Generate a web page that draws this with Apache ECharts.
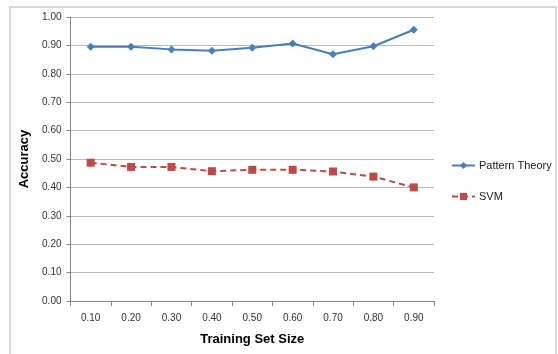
<!DOCTYPE html>
<html><head><meta charset="utf-8">
<script src="https://cdn.jsdelivr.net/npm/echarts@6/dist/echarts.min.js"></script>
<style>html,body{margin:0;padding:0;background:#fff}#c{width:558px;height:354px}</style>
</head><body><div id="c"></div>
<script>
const categories = ['0.10','0.20','0.30','0.40','0.50','0.60','0.70','0.80','0.90'];
const patternTheory = [0.895, 0.895, 0.886, 0.881, 0.892, 0.907, 0.869, 0.897, 0.955];
const svm = [0.487, 0.472, 0.472, 0.457, 0.462, 0.462, 0.456, 0.438, 0.400];
const seriesNames = ['Pattern Theory', 'SVM'];

const chart = echarts.init(document.getElementById('c'), null, {renderer:'canvas'});
const font = 'Liberation Sans, Arial, sans-serif';
chart.setOption({
  animation: false,
  backgroundColor: '#fff',
  graphic: [{
    type: 'rect', shape: {x: 10, y: 7, width: 546, height: 360},
    style: {fill: 'none', stroke: '#d9d9d9', lineWidth: 2}, silent: true
  }],
  grid: {left: 70.5, right: 124, top: 17, bottom: 53},
  legend: {
    orient: 'vertical', left: 446, top: 155, itemGap: 20,
    itemWidth: 23, itemHeight: 9,
    textStyle: {fontFamily: font, fontSize: 11, color: '#222', padding: [0, 0, 0, -1]},
    data: seriesNames.map(n => ({name: n}))
  },
  xAxis: {
    type: 'category', data: categories, boundaryGap: true,
    name: 'Training Set Size', nameLocation: 'middle', nameGap: 32,
    nameTextStyle: {fontFamily: font, fontSize: 13, fontWeight: 'bold', color: '#000'},
    axisLine: {lineStyle: {color: '#888', width: 1}},
    axisTick: {show: true, length: 5, lineStyle: {color: '#888'}},
    axisLabel: {fontFamily: font, fontSize: 10, color: '#333', margin: 12}
  },
  yAxis: {
    type: 'value', min: 0, max: 1, interval: 0.1,
    name: 'Accuracy', nameLocation: 'middle', nameGap: 33, nameRotate: 90,
    nameTextStyle: {fontFamily: font, fontSize: 13, fontWeight: 'bold', color: '#000'},
    axisLine: {show: true, lineStyle: {color: '#888', width: 1}},
    axisTick: {show: true, length: 4, inside: false, lineStyle: {color: '#888'}},
    axisLabel: {fontFamily: font, fontSize: 10, color: '#333', margin: 9, formatter: v => v.toFixed(2)},
    splitLine: {lineStyle: {color: '#b8b8b8', width: 1}}
  },
  series: [
    {name: seriesNames[0], type: 'line', data: patternTheory, symbol: 'diamond', symbolSize: 8,
     color: '#4a7ebb', lineStyle: {width: 2, color: '#4a7ebb'}, itemStyle: {color: '#4a7ebb'}},
    {name: seriesNames[1], type: 'line', data: svm, symbol: 'rect', symbolSize: 8,
     color: '#be4b48', lineStyle: {width: 2, type: [6, 4], color: '#be4b48'}, itemStyle: {color: '#be4b48'}}
  ]
});
</script></body></html>
